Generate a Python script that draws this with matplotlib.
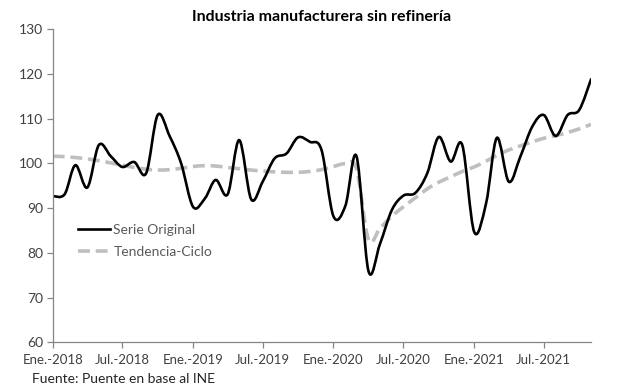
import numpy as np
import pandas as pd
import matplotlib
matplotlib.use("Agg")
import matplotlib.pyplot as plt
import matplotlib.dates as mdates
from matplotlib.path import Path
from matplotlib.patches import PathPatch
from matplotlib.lines import Line2D

plt.rcParams['font.family'] = ['Lato', 'DejaVu Sans']

# monthly index, Jan-2018 .. Nov-2021
fechas = pd.date_range("2018-01-01", "2021-11-01", freq="MS")

serie_original = [
    92.7, 93.1, 99.6, 94.6, 104.1, 101.6, 99.2, 100.3, 97.8, 110.8, 106.1, 100.0,
    90.3, 92.2, 96.3, 93.1, 105.2, 92.0, 95.9, 101.1, 102.2, 105.8, 104.8, 103.0,
    88.2, 90.5, 101.6, 76.0, 82.0, 89.6, 92.8, 93.4, 97.8, 105.9, 100.4, 104.1,
    84.7, 91.1, 105.7, 95.9, 101.5, 108.2, 110.8, 106.1, 110.8, 111.9, 118.8,
]

tendencia_ciclo = [
    101.6, 101.5, 101.3, 101.0, 100.6, 100.1, 99.6, 99.1, 98.7, 98.5, 98.6, 98.9,
    99.3, 99.5, 99.4, 99.1, 98.8, 98.5, 98.3, 98.1, 98.0, 98.0, 98.2, 98.6,
    99.3, 99.9, 98.8, 83.0, 85.5, 88.2, 90.3, 92.3, 94.3, 95.8, 97.0, 98.2,
    99.2, 100.5, 101.8, 103.0, 103.9, 104.8, 105.6, 106.2, 106.9, 107.7, 108.7,
]

ticks_x = pd.date_range("2018-01-01", "2021-07-01", freq="6MS")
etiquetas_x = ["Ene.-2018", "Jul.-2018", "Ene.-2019", "Jul.-2019",
               "Ene.-2020", "Jul.-2020", "Ene.-2021", "Jul.-2021"]


def smooth_path(x, y):
    # Excel-like smoothed line: cubic Bezier through every point
    x = np.asarray(x, float)
    y = np.asarray(y, float)
    n = len(x)
    verts = [(x[0], y[0])]
    codes = [Path.MOVETO]
    for i in range(n - 1):
        i0 = max(i - 1, 0)
        i3 = min(i + 2, n - 1)
        c1 = (x[i] + (x[i + 1] - x[i0]) / 6, y[i] + (y[i + 1] - y[i0]) / 6)
        c2 = (x[i + 1] - (x[i3] - x[i]) / 6, y[i + 1] - (y[i3] - y[i]) / 6)
        verts += [c1, c2, (x[i + 1], y[i + 1])]
        codes += [Path.CURVE4] * 3
    return Path(verts, codes)


xs = mdates.date2num(fechas)

fig = plt.figure(figsize=(6.17, 3.87), dpi=100)
ax = fig.add_axes([0.0854, 0.115, 0.8726, 0.81])

gris = "#bfbfbf"
dash = (0, (3.3, 1.6))
trend = PathPatch(smooth_path(xs, tendencia_ciclo), facecolor="none",
                  edgecolor=gris, lw=2.6, linestyle=dash, capstyle="butt")
orig = PathPatch(smooth_path(xs, serie_original), facecolor="none",
                 edgecolor="black", lw=1.9, capstyle="round", joinstyle="round")
ax.add_patch(trend)
ax.add_patch(orig)

ax.set_xlim(xs[0], xs[-1])
ax.set_ylim(60, 130)
ax.set_yticks(range(60, 131, 10))
ax.set_xticks(mdates.date2num(ticks_x))
ax.set_xticklabels(etiquetas_x)

for s in ["top", "right"]:
    ax.spines[s].set_visible(False)
for s in ["left", "bottom"]:
    ax.spines[s].set_color("#868686")
    ax.spines[s].set_linewidth(0.9)
ax.tick_params(axis="both", direction="out", length=4, width=0.9,
               color="#868686", labelcolor="#404040", pad=3)
ax.tick_params(axis="y", labelsize=10)
ax.tick_params(axis="x", labelsize=9.5, pad=4)

ax.set_title("Industria manufacturera sin refinería", fontsize=11.5,
             fontweight="bold", color="black", pad=6)

handles = [Line2D([], [], color="black", lw=1.9),
           Line2D([], [], color=gris, lw=2.6, linestyle=dash)]
leg = ax.legend(handles, ["Serie Original", "Tendencia-Ciclo"],
                loc="center left", bbox_to_anchor=(0.047, 0.324), frameon=False,
                fontsize=10, handlelength=2.3, labelspacing=0.75,
                handletextpad=0.25, borderpad=0, borderaxespad=0)
for t in leg.get_texts():
    t.set_color("#595959")

fig.text(0.052, 0.01, "Fuente: Puente en base al INE", fontsize=10,
         color="#262626")

fig.savefig("out.png", dpi=100)
